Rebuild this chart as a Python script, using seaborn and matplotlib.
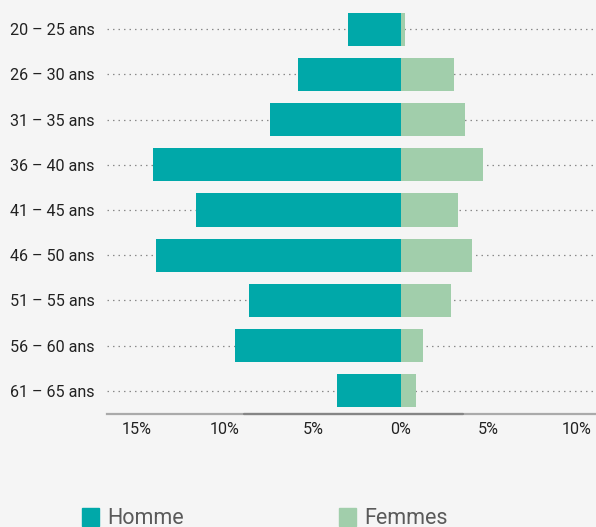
import pandas as pd
import matplotlib.pyplot as plt
import seaborn as sns
from matplotlib.patches import Patch

sns.set_theme(style="white")
plt.rcParams['font.family'] = ['Roboto', 'DejaVu Sans']

# Pyramide des âges (en % de l'effectif)
AGES = ["20 – 25 ans", "26 – 30 ans", "31 – 35 ans", "36 – 40 ans", "41 – 45 ans",
        "46 – 50 ans", "51 – 55 ans", "56 – 60 ans", "61 – 65 ans"]
HOMME = [3.0, 5.85, 7.45, 14.1, 11.65, 13.9, 8.65, 9.45, 3.65]
FEMMES = [0.23, 3.0, 3.65, 4.65, 3.25, 4.05, 2.85, 1.25, 0.85]
XTICKS = [-15, -10, -5, 0, 5, 10]
XTICK_LABELS = ["15%", "10%", "5%", "0%", "5%", "10%"]

COL_H = "#00A8A9"
COL_F = "#A1CEAB"
BG = "#F5F5F5"

df = pd.concat([
    pd.DataFrame({"age": AGES, "pct": [-v for v in HOMME], "sexe": "Homme"}),
    pd.DataFrame({"age": AGES, "pct": FEMMES, "sexe": "Femmes"}),
])

fig = plt.figure(figsize=(5.96, 5.27), dpi=100, facecolor=BG)
ax = fig.add_axes([107 / 596, 113.5 / 527, 489 / 596, 407 / 527])
ax.set_facecolor(BG)

sns.barplot(data=df, x="pct", y="age", hue="sexe", dodge=False, orient="h",
            palette={"Homme": COL_H, "Femmes": COL_F}, width=0.73,
            saturation=1, legend=False, linewidth=0, ax=ax, zorder=2)

ax.set_xlim(-16.7, 11.1)
ax.set_xticks(XTICKS)
ax.set_xticklabels(XTICK_LABELS)
ax.set_xlabel("")
ax.set_ylabel("")
ax.tick_params(axis="both", length=0, labelsize=11.6, colors="#222222")
ax.tick_params(axis="y", pad=9)
ax.tick_params(axis="x", pad=6)

ax.grid(axis="y", color="#8a8a8a", linestyle=(0, (1.2, 3.2)), linewidth=0.9, zorder=0)
ax.grid(axis="x", visible=False)
ax.set_axisbelow(True)

for side in ["top", "right", "left"]:
    ax.spines[side].set_visible(False)
ax.spines["bottom"].set_color("#AAAAAA")
ax.spines["bottom"].set_linewidth(1.6)
# darker middle section of the baseline
ax.axhline(8.5, xmin=0.28, xmax=0.728, color="#858585", lw=1.6, clip_on=False, zorder=3)

handles = [Patch(color=COL_H, label="Homme"), Patch(color=COL_F, label="Femmes")]
fig.legend(handles=handles, loc="upper left", bbox_to_anchor=(82 / 596, 1 - 508 / 527),
           ncol=2, frameon=False, fontsize=15.5, labelcolor="#5a5a5a",
           handlelength=0.78, handleheight=0.9, handletextpad=0.4,
           columnspacing=7.2, borderpad=0, borderaxespad=0)

fig.savefig("out.png", dpi=100, facecolor=BG)
